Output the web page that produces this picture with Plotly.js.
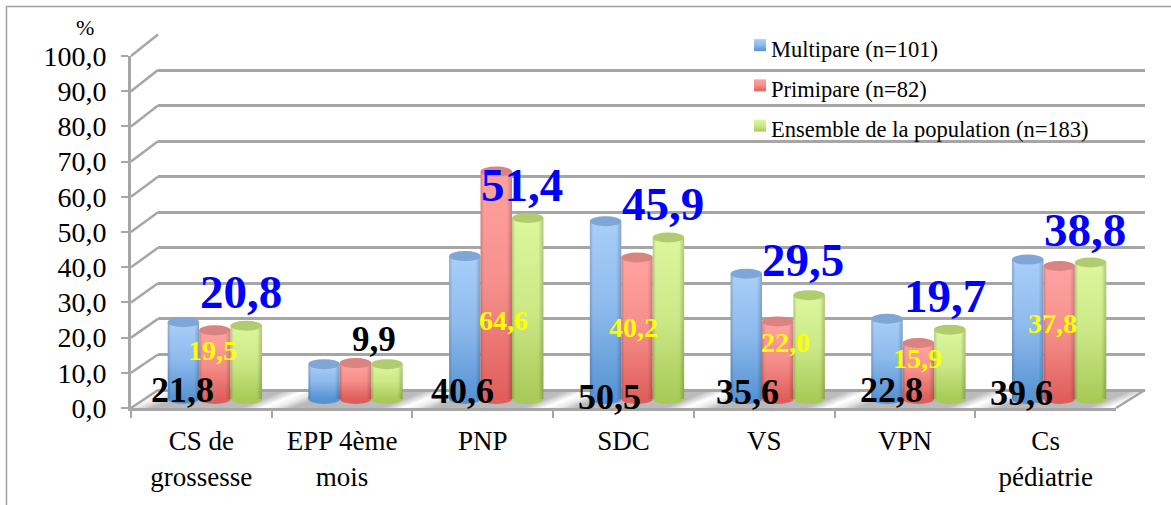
<!DOCTYPE html>
<html><head><meta charset="utf-8">
<script src="https://cdn.plot.ly/plotly-3.0.1.min.js"></script>
<style>html,body{margin:0;padding:0;background:#fff}#c{width:1171px;height:505px}</style>
</head><body><div id="c"></div>
<script>
const categories = ["CS de<br>grossesse","EPP 4ème<br>mois","PNP","SDC","VS","VPN","Cs<br>pédiatrie"];
const seriesNames = ["Multipare (n=101)","Primipare (n=82)","Ensemble de la population (n=183)"];
const multipare = [21.8,9.9,40.6,50.5,35.6,22.8,39.6];
const primipare = [19.5,10.2,64.6,40.2,22.0,15.9,37.8];
const ensemble = [20.8,9.9,51.4,45.9,29.5,19.7,38.8];
const yTicks = [0,10,20,30,40,50,60,70,80,90,100];

// which labels the source shows, and where it put them (pixels)
const multipareLabelAt = [[182,390],null,[463,391],[609,397],[748,392],[891,390],[1021,393]];
const primipareLabelAt = [[213,350],null,[503,320],[633,327],[785,342],[917,358],[1052,323]];
const ensembleLabelAt = [[241,292],null,[522,185],[663,204],[803,260],[945,296],[1085,230]];
const eppLabelAt = [374,339];

const W=1171,H=505;
const px=x=>x/W, py=y=>1-y/H;
const FONT='"Liberation Serif", serif';
const GRID='#a6a6a6';
const front={l:131,r:1116,z:408,t:56};
const back={l:158,r:1145,z:390,t:34.5};
const bars={l:144.5,r:1129.5,z:399,t:47};
const gap=0.33, ry=5, unit=(bars.z-bars.t)/100, under=4;
const barW=(1-gap)/3;

const fmt=v=>v.toFixed(1).replace('.',',');
const colors=['#8ab6ea','#f08a86','#c4e27a'];
const capColors=['#7ea6d6','#d98480','#b0cc6e'];
const baseColors=['#5593d3','#e05e5a','#a8ca58'];
const vals=[multipare,primipare,ensemble];

const traces=vals.map((v,i)=>({type:'bar',name:seriesNames[i],legendgroup:'g'+i,x:categories.map((_,k)=>k),y:v,
  xaxis:'x3',yaxis:'y3',marker:{color:colors[i],line:{width:0}},hoverinfo:'skip'}));
traces.push({type:'scatter',x:[0],y:[0],xaxis:'x',yaxis:'y',mode:'none',showlegend:false,hoverinfo:'skip'});
traces.push({type:'scatter',x:categories,y:categories.map(()=>0),xaxis:'x2',yaxis:'y2',mode:'none',showlegend:false,hoverinfo:'skip'});

const shapes=[];
shapes.push({type:'path',xref:'paper',yref:'paper',layer:'below',line:{width:0},fillcolor:'#c8c8c8',
  path:`M ${px(front.l)} ${py(front.z)} L ${px(back.l)} ${py(back.z)} L ${px(back.r)} ${py(back.z)} L ${px(front.r)} ${py(front.z)} Z`});
const FLOOR_INDEX=0;
yTicks.forEach(t=>{
  shapes.push({type:'line',xref:'paper',yref:'paper',layer:'below',line:{color:GRID,width:2.5},
    x0:px(front.l),y0:py(front.z-(front.z-front.t)*t/100),x1:px(back.l),y1:py(back.z-(back.z-back.t)*t/100)});
});
shapes.push({type:'line',xref:'paper',yref:'paper',layer:'below',line:{color:GRID,width:2.5},
  x0:px(front.r),y0:py(front.z),x1:px(back.r),y1:py(back.z)});
vals.forEach((v,i)=>v.forEach((val,k)=>{
  const c=k-(1-gap)/2+barW*i;
  shapes.push({type:'circle',xref:'x3',yref:'y3',layer:'below',fillcolor:baseColors[i],line:{width:0},
    x0:c,x1:c+barW,y0:-ry/unit,y1:ry/unit});
}));
vals.forEach((v,i)=>v.forEach((val,k)=>{
  const c=k-(1-gap)/2+barW*i;
  shapes.push({type:'circle',xref:'x3',yref:'y3',layer:'above',fillcolor:capColors[i],line:{width:0},
    x0:c,x1:c+barW,y0:val-ry/unit,y1:val+ry/unit});
}));
shapes.push({type:'line',xref:'paper',yref:'paper',line:{color:'#a0a0a0',width:1.5},x0:px(6.5),x1:px(6.5),y0:py(6.5),y1:0});
shapes.push({type:'line',xref:'paper',yref:'paper',line:{color:'#a0a0a0',width:1.5},x0:px(6.5),x1:1,y0:py(6.5),y1:py(6.5)});

const ann=[];
const addLab=(txt,p,size,color)=>ann.push({xref:'paper',yref:'paper',x:px(p[0]),y:py(p[1]),text:'<b>'+txt+'</b>',showarrow:false,
  xanchor:'center',yanchor:'middle',font:{family:FONT,size:size,color:color}});
multipareLabelAt.forEach((p,k)=>{if(p)addLab(fmt(multipare[k]),p,36,'#000000')});
primipareLabelAt.forEach((p,k)=>{if(p)addLab(fmt(primipare[k]),p,28,'#ffff00')});
ensembleLabelAt.forEach((p,k)=>{if(p)addLab(fmt(ensemble[k]),p,47,'#0000ff')});
addLab(fmt(ensemble[1]),eppLabelAt,35,'#000000');
ann.push({xref:'paper',yref:'paper',x:px(85),y:py(27),text:'%',showarrow:false,xanchor:'center',yanchor:'middle',font:{family:FONT,size:22,color:'#000'}});

const layout={
  width:W,height:H,margin:{l:0,r:0,t:0,b:0},paper_bgcolor:'#fff',plot_bgcolor:'rgba(0,0,0,0)',
  separators:', ',barmode:'group',bargap:gap,bargroupgap:0,
  font:{family:FONT,color:'#000'},
  xaxis:{domain:[px(back.l),px(back.r)],range:[0,1],anchor:'y',visible:false,fixedrange:true},
  yaxis:{domain:[py(back.z),py(back.t)],range:[0,100],anchor:'x',tickvals:yTicks,showgrid:true,gridcolor:GRID,gridwidth:3,
    showticklabels:false,ticks:'',zeroline:true,zerolinecolor:GRID,zerolinewidth:3,showline:false,fixedrange:true},
  xaxis2:{domain:[px(front.l),px(front.r)],anchor:'y2',type:'category',categoryorder:'array',categoryarray:categories,range:[-0.5,6.5],
    tickson:'boundaries',ticks:'outside',ticklen:7,tickwidth:2,tickcolor:GRID,showline:true,linecolor:GRID,linewidth:3,
    showgrid:false,zeroline:false,tickfont:{family:FONT,size:27,color:'#000'},ticklabelstandoff:7,fixedrange:true},
  yaxis2:{domain:[py(front.z),py(front.t)],range:[0,100],anchor:'x2',tickvals:yTicks,tickformat:'.1f',ticks:'outside',ticklen:7,tickwidth:2,tickcolor:GRID,
    showline:true,linecolor:GRID,linewidth:3,showgrid:false,zeroline:false,tickfont:{family:FONT,size:28,color:'#000'},ticklabelstandoff:9,fixedrange:true},
  xaxis3:{domain:[px(bars.l),px(bars.r)],anchor:'y3',range:[-0.5,6.5],visible:false,fixedrange:true},
  yaxis3:{domain:[py(bars.z+under*unit),py(bars.t)],range:[-under,100],anchor:'x3',visible:false,fixedrange:true},
  showlegend:true,
  legend:{x:px(731),y:py(27),xanchor:'left',yanchor:'top',traceorder:'grouped',tracegroupgap:8,bgcolor:'rgba(0,0,0,0)',
    font:{family:FONT,size:22.5,color:'#000'},itemwidth:30,itemclick:false,itemdoubleclick:false},
  shapes:shapes,annotations:ann
};

Plotly.newPlot('c',traces,layout,{displayModeBar:false,staticPlot:true}).then(gd=>{
  const NS='http://www.w3.org/2000/svg';
  const svg=gd.querySelector('.main-svg');
  const defs=document.createElementNS(NS,'defs');
  const mk=(id,x2,y2,stops,extra)=>{
    const g=document.createElementNS(NS,'linearGradient');
    g.setAttribute('id',id);g.setAttribute('x1','0');g.setAttribute('y1','0');g.setAttribute('x2',x2);g.setAttribute('y2',y2);
    if(extra)Object.keys(extra).forEach(k=>g.setAttribute(k,extra[k]));
    stops.forEach(s=>{const e=document.createElementNS(NS,'stop');e.setAttribute('offset',s[0]);e.setAttribute('stop-color',s[1]);
      if(s[2]!==undefined)e.setAttribute('stop-opacity',s[2]);g.appendChild(e)});
    defs.appendChild(g);
  };
  mk('gv0',0,1,[[0,'#a9cff9'],[0.5,'#8db9ec'],[1,'#5593d3']]);
  mk('gv1',0,1,[[0,'#ffa3a0'],[0.5,'#f58f8b'],[1,'#e05e5a']]);
  mk('gv2',0,1,[[0,'#dcf79d'],[0.5,'#cbe987'],[1,'#a8ca58']]);
  mk('edge',1,0,[[0,'#000',0.18],[0.1,'#000',0],[0.84,'#000',0],[1,'#000',0.2]]);
  mk('floor',19.4,48.6,[[0,'#ffffff'],[0.1,'#ececec'],[0.22,'#b8b8b8'],[0.85,'#bcbcbc'],[1,'#ffffff']],
    {gradientUnits:'userSpaceOnUse',spreadMethod:'repeat',x1:272,y1:404,x2:272+19.4,y2:404+48.6});
  svg.insertBefore(defs,svg.firstChild);
  gd.querySelectorAll('.x3y3 .barlayer .trace').forEach((tr,i)=>{
    tr.querySelectorAll('.point path').forEach(p=>{
      p.style.fill=`url(#gv${i})`;
      const c=p.cloneNode();c.style.fill='url(#edge)';c.style.stroke='none';
      p.parentNode.appendChild(c);
    });
  });
  gd.querySelectorAll('.legend .traces').forEach((t,i)=>{
    t.querySelectorAll('.legendpoints path').forEach(p=>{
      p.setAttribute('d','M6,6H-6V-6H6Z');p.style.fill=`url(#gv${i})`;
    });
    const lp=t.querySelector('.legendpoints');
    if(lp)lp.setAttribute('transform','translate(9,-3)');
  });
  const f=gd.querySelector('path[data-index="'+FLOOR_INDEX+'"]');
  if(f)f.style.fill='url(#floor)';
});
</script></body></html>
